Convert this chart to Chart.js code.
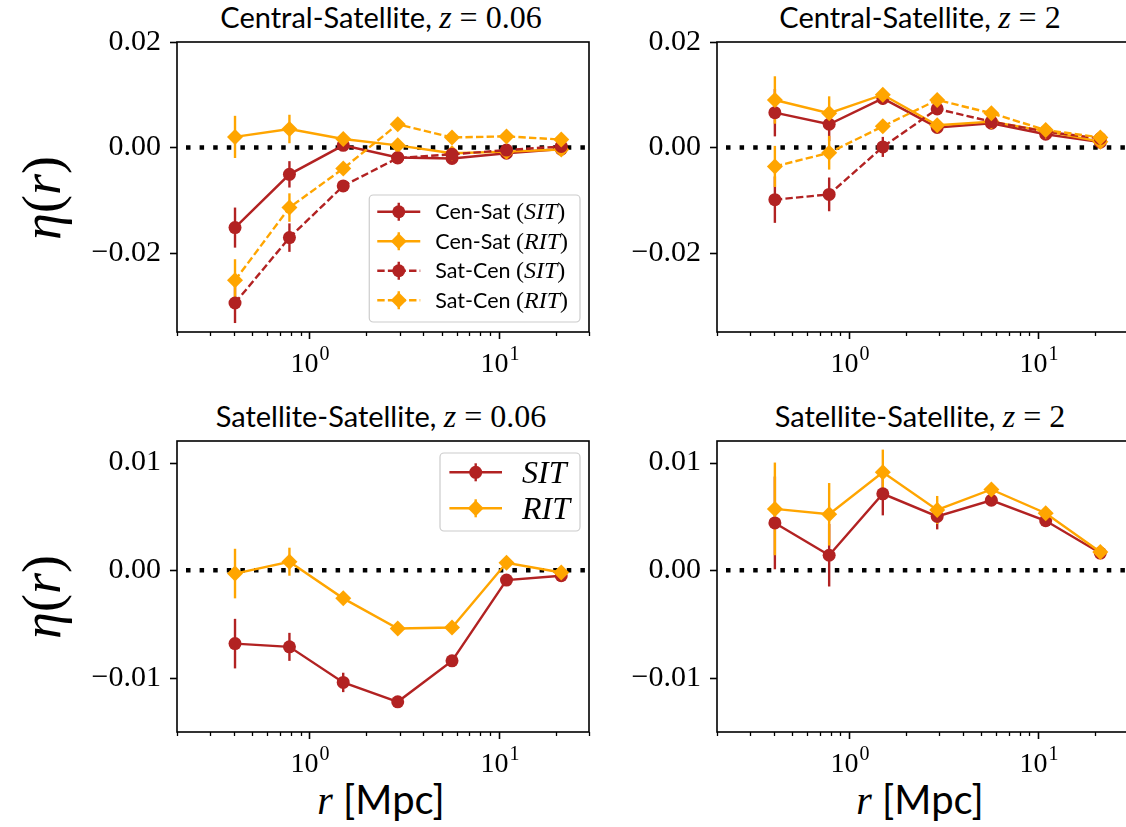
<!DOCTYPE html>
<html lang="en">
<head>
    <meta charset="UTF-8">
    <title>eta(r) - central/satellite alignment</title>
    <script src="https://cdn.jsdelivr.net/npm/chart.js"></script>
    <style>
        body { margin: 0; background: #fff; overflow: hidden; }
        #fig { position: relative; width: 1126px; height: 827px; }
        #fig canvas { position: absolute; }
        .lbl {
            position: absolute;
            transform: translate(-50%, -50%);
            white-space: nowrap;
            line-height: 1;
            color: #000;
        }
        .ttl { font-family: Lato, sans-serif; font-size: 29px; }
        .ttl .m { font-family: 'Liberation Serif', serif; font-size: 32px; }
        .ylab { font-family: 'Liberation Serif', serif; font-size: 54px; transform: translate(-50%, -50%) rotate(-90deg); }
        .xlab { font-family: Lato, sans-serif; font-size: 40px; }
        .xlab i { font-family: 'Liberation Serif', serif; }
    </style>
</head>
<body>
<div id="fig">
    <div class="lbl ttl" style="left:381px;top:17px">Central-Satellite, <span class="m"><i>z</i> = 0.06</span></div>
    <div class="lbl ttl" style="left:920px;top:17px">Central-Satellite, <span class="m"><i>z</i> = 2</span></div>
    <div class="lbl ttl" style="left:381px;top:416px">Satellite-Satellite, <span class="m"><i>z</i> = 0.06</span></div>
    <div class="lbl ttl" style="left:920px;top:416px">Satellite-Satellite, <span class="m"><i>z</i> = 2</span></div>
    <div class="lbl ylab" style="left:42px;top:198px"><i>η</i>(<i>r</i>)</div>
    <div class="lbl ylab" style="left:42px;top:597px"><i>η</i>(<i>r</i>)</div>
    <div class="lbl xlab" style="left:381px;top:800px"><i>r</i> [Mpc]</div>
    <div class="lbl xlab" style="left:920px;top:800px"><i>r</i> [Mpc]</div>
</div>
<script>
// radial bins (Mpc)
const rBins = [0.405, 0.785, 1.51, 2.93, 5.67, 11.0, 21.4];

// Central-Satellite, z = 0.06
const csLowCenSatSIT    = [-0.0152, -0.0051, 0.0004, -0.0019, -0.0021, -0.0011, -0.0003];
const csLowCenSatSITErr = [0.0038, 0.0025, 0.0008, 0.0006, 0.0005, 0.0004, 0.0003];
const csLowCenSatRIT    = [0.0020, 0.0035, 0.0016, 0.0004, -0.0011, -0.0008, -0.0004];
const csLowCenSatRITErr = [0.0040, 0.0027, 0.0008, 0.0006, 0.0005, 0.0004, 0.0003];
const csLowSatCenSIT    = [-0.0295, -0.0171, -0.0073, -0.0020, -0.0013, -0.0005, 0.0002];
const csLowSatCenSITErr = [0.0038, 0.0027, 0.0010, 0.0006, 0.0005, 0.0004, 0.0003];
const csLowSatCenRIT    = [-0.0252, -0.0114, -0.0040, 0.0044, 0.0019, 0.0021, 0.0015];
const csLowSatCenRITErr = [0.0040, 0.0027, 0.0010, 0.0006, 0.0005, 0.0004, 0.0003];

// Central-Satellite, z = 2
const csHighCenSatSIT    = [0.0066, 0.0044, 0.0093, 0.0038, 0.0046, 0.0025, 0.0010];
const csHighCenSatSITErr = [0.0045, 0.0032, 0.0012, 0.0006, 0.0005, 0.0004, 0.0003];
const csHighCenSatRIT    = [0.0090, 0.0065, 0.0100, 0.0042, 0.0049, 0.0031, 0.0011];
const csHighCenSatRITErr = [0.0045, 0.0032, 0.0012, 0.0006, 0.0005, 0.0004, 0.0003];
const csHighSatCenSIT    = [-0.0099, -0.0089, 0.0001, 0.0073, 0.0049, 0.0030, 0.0017];
const csHighSatCenSITErr = [0.0044, 0.0032, 0.0019, 0.0008, 0.0005, 0.0004, 0.0003];
const csHighSatCenRIT    = [-0.0036, -0.0010, 0.0040, 0.0090, 0.0065, 0.0033, 0.0019];
const csHighSatCenRITErr = [0.0039, 0.0032, 0.0012, 0.0006, 0.0005, 0.0004, 0.0003];

// Satellite-Satellite, z = 0.06
const ssLowSIT    = [-0.0068, -0.0071, -0.0104, -0.0122, -0.0084, -0.0009, -0.0005];
const ssLowSITErr = [0.0023, 0.0013, 0.0009, 0.0004, 0.0003, 0.0003, 0.0002];
const ssLowRIT    = [-0.0003, 0.0008, -0.0026, -0.0054, -0.0053, 0.0007, -0.0002];
const ssLowRITErr = [0.0023, 0.0013, 0.0005, 0.0003, 0.0003, 0.0003, 0.0002];

// Satellite-Satellite, z = 2
const ssHighSIT    = [0.0044, 0.0014, 0.0071, 0.0050, 0.0065, 0.0046, 0.0016];
const ssHighSITErr = [0.0043, 0.0029, 0.0020, 0.0012, 0.0005, 0.0004, 0.0002];
const ssHighRIT    = [0.0057, 0.0052, 0.0091, 0.0056, 0.0075, 0.0053, 0.0017];
const ssHighRITErr = [0.0043, 0.0029, 0.0021, 0.0013, 0.0005, 0.0004, 0.0002];

// ticks
const xMajorTicks = [1, 10];
const xMajorLabels = ['0', '1'];   // exponents of 10
const xMinorTicks = [0.2, 0.3, 0.4, 0.5, 0.6, 0.7, 0.8, 0.9, 2, 3, 4, 5, 6, 7, 8, 9, 20, 30];
const yTicksCS = [-0.02, 0, 0.02];
const yTicksSS = [-0.01, 0, 0.01];

// legend texts: [text, font kind]
const legendCS = [
    [['Cen-Sat ', 'sans'], ['(', 'serif'], ['SIT', 'it'], [')', 'serif']],
    [['Cen-Sat ', 'sans'], ['(', 'serif'], ['RIT', 'it'], [')', 'serif']],
    [['Sat-Cen ', 'sans'], ['(', 'serif'], ['SIT', 'it'], [')', 'serif']],
    [['Sat-Cen ', 'sans'], ['(', 'serif'], ['RIT', 'it'], [')', 'serif']]
];
const legendSS = [
    [['SIT', 'it']],
    [['RIT', 'it']]
];

const RED = '#b22222';
const ORANGE = '#ffa500';
const DASH = [7.4, 3.2];

function serie(vals, errs, color, dashed, marker) {
    return { vals, errs, color, dash: dashed ? DASH : [], marker };
}

const panels = [
    {
        left: 177, top: 42, w: 412, h: 290, yMin: -0.035, yMax: 0.02, yTicks: yTicksCS,
        series: [
            serie(csLowCenSatSIT, csLowCenSatSITErr, RED, false, 'circle'),
            serie(csLowCenSatRIT, csLowCenSatRITErr, ORANGE, false, 'diamond'),
            serie(csLowSatCenSIT, csLowSatCenSITErr, RED, true, 'circle'),
            serie(csLowSatCenRIT, csLowSatCenRITErr, ORANGE, true, 'diamond')
        ],
        legend: { labels: legendCS, corner: 'bottom', font: 21.5, rowH: 29.5, padTop: 2, padBot: 7,
                  pad: 8, handleW: 43, gap: 15, right: 12 }
    },
    {
        left: 717, top: 42, w: 411, h: 290, yMin: -0.035, yMax: 0.02, yTicks: yTicksCS,
        series: [
            serie(csHighCenSatSIT, csHighCenSatSITErr, RED, false, 'circle'),
            serie(csHighCenSatRIT, csHighCenSatRITErr, ORANGE, false, 'diamond'),
            serie(csHighSatCenSIT, csHighSatCenSITErr, RED, true, 'circle'),
            serie(csHighSatCenRIT, csHighSatCenRITErr, ORANGE, true, 'diamond')
        ]
    },
    {
        left: 177, top: 441, w: 412, h: 291, yMin: -0.015, yMax: 0.012, yTicks: yTicksSS,
        series: [
            serie(ssLowSIT, ssLowSITErr, RED, false, 'circle'),
            serie(ssLowRIT, ssLowRITErr, ORANGE, false, 'diamond')
        ],
        legend: { labels: legendSS, corner: 'top', font: 29, rowH: 36, padTop: 1.3, padBot: 4.7,
                  pad: 9.4, handleW: 52.6, gap: 20, right: 10 }
    },
    {
        left: 717, top: 441, w: 411, h: 291, yMin: -0.015, yMax: 0.012, yTicks: yTicksSS,
        series: [
            serie(ssHighSIT, ssHighSITErr, RED, false, 'circle'),
            serie(ssHighRIT, ssHighRITErr, ORANGE, false, 'diamond')
        ]
    }
];

function fmtTick(v) {
    const s = Math.abs(v).toFixed(2);
    return v < -1e-9 ? '\u2212' + s : s;
}

function fontFor(kind, size) {
    if (kind === 'sans') return size + 'px Lato, sans-serif';
    if (kind === 'it') return 'italic ' + Math.round(size * 1.12) + 'px "Liberation Serif", serif';
    return Math.round(size * 1.12) + 'px "Liberation Serif", serif';
}

function drawMarker(ctx, kind, x, y, color) {
    ctx.save();
    ctx.fillStyle = color;
    ctx.beginPath();
    if (kind === 'circle') {
        ctx.arc(x, y, 6.5, 0, Math.PI * 2);
    } else {
        ctx.moveTo(x, y - 8); ctx.lineTo(x + 8, y); ctx.lineTo(x, y + 8); ctx.lineTo(x - 8, y);
        ctx.closePath();
    }
    ctx.fill();
    ctx.restore();
}

const decoPlugin = {
    id: 'deco',
    beforeDatasetsDraw(chart) {
        const p = chart.options.plugins.deco.panel;
        const { ctx, chartArea: a, scales: { x, y } } = chart;
        // dotted zero line
        const y0 = y.getPixelForValue(0);
        ctx.save();
        ctx.strokeStyle = '#000';
        ctx.lineWidth = 4.5;
        ctx.setLineDash([4.5, 9.1]);
        ctx.lineDashOffset = 4.6;
        ctx.beginPath();
        ctx.moveTo(a.left, y0); ctx.lineTo(a.right, y0);
        ctx.stroke();
        ctx.restore();
        // error bars (all below the lines and markers)
        ctx.save();
        ctx.beginPath(); ctx.rect(a.left, a.top, a.right - a.left, a.bottom - a.top); ctx.clip();
        ctx.lineWidth = 2.4;
        p.series.forEach(s => {
            ctx.strokeStyle = s.color;
            s.vals.forEach((v, i) => {
                const px = x.getPixelForValue(rBins[i]);
                ctx.beginPath();
                ctx.moveTo(px, y.getPixelForValue(v + s.errs[i]));
                ctx.lineTo(px, y.getPixelForValue(v - s.errs[i]));
                ctx.stroke();
            });
        });
        ctx.restore();
    },
    afterDatasetsDraw(chart) {
        const p = chart.options.plugins.deco.panel;
        const { ctx, chartArea: a, scales: { x, y } } = chart;
        ctx.save();
        ctx.strokeStyle = '#000';
        // frame
        ctx.lineWidth = 1.6;
        ctx.strokeRect(a.left, a.top, a.right - a.left, a.bottom - a.top);
        // y ticks
        y.ticks.forEach(t => {
            const py = Math.round(y.getPixelForValue(t.value)) + 0.5;
            ctx.beginPath(); ctx.moveTo(a.left - 7, py); ctx.lineTo(a.left, py); ctx.stroke();
        });
        // x ticks
        ctx.lineWidth = 1.3;
        xMinorTicks.forEach(v => {
            const px = Math.round(x.getPixelForValue(v)) + 0.5;
            ctx.beginPath(); ctx.moveTo(px, a.bottom); ctx.lineTo(px, a.bottom + 4); ctx.stroke();
        });
        ctx.lineWidth = 1.6;
        xMajorTicks.forEach((v, i) => {
            const px = Math.round(x.getPixelForValue(v)) + 0.5;
            ctx.beginPath(); ctx.moveTo(px, a.bottom); ctx.lineTo(px, a.bottom + 7); ctx.stroke();
            // label 10^k
            ctx.fillStyle = '#000';
            ctx.textBaseline = 'alphabetic';
            ctx.textAlign = 'left';
            const fBase = '28px "Liberation Serif", serif';
            const fSup = '20px "Liberation Serif", serif';
            ctx.font = fBase; const w1 = ctx.measureText('10').width;
            ctx.font = fSup; const w2 = ctx.measureText(xMajorLabels[i]).width;
            const x0 = px - (w1 + w2) / 2;
            const base = a.bottom + 40;
            ctx.font = fBase; ctx.fillText('10', x0, base);
            ctx.font = fSup; ctx.fillText(xMajorLabels[i], x0 + w1 + 1, base - 12);
        });
        ctx.restore();

        // legend
        const L = p.legend;
        if (!L) return;
        ctx.save();
        const widths = L.labels.map(parts => parts.reduce((acc, [t, k]) => {
            ctx.font = fontFor(k, L.font); return acc + ctx.measureText(t).width;
        }, 0));
        const boxW = L.pad + L.handleW + L.gap + Math.max(...widths) + L.right;
        const boxH = L.padTop + L.rowH * L.labels.length + L.padBot;
        const bx = a.right - 9 - boxW;
        const by = L.corner === 'bottom' ? a.bottom - 10 - boxH : a.top + 12;
        ctx.fillStyle = 'rgba(255,255,255,0.8)';
        ctx.strokeStyle = '#cccccc';
        ctx.lineWidth = 1.2;
        ctx.beginPath();
        ctx.roundRect(bx, by, boxW, boxH, 4);
        ctx.fill(); ctx.stroke();
        L.labels.forEach((parts, i) => {
            const s = p.series[i];
            const cy = by + L.padTop + L.rowH * (i + 0.5);
            const hx = bx + L.pad;
            // handle: line, error stub, marker
            ctx.strokeStyle = s.color;
            ctx.lineWidth = 2.4;
            ctx.setLineDash(s.dash);
            ctx.beginPath(); ctx.moveTo(hx, cy); ctx.lineTo(hx + L.handleW, cy); ctx.stroke();
            ctx.setLineDash([]);
            ctx.beginPath(); ctx.moveTo(hx + L.handleW / 2, cy - 9); ctx.lineTo(hx + L.handleW / 2, cy + 9); ctx.stroke();
            drawMarker(ctx, s.marker, hx + L.handleW / 2, cy, s.color);
            // text
            let tx = hx + L.handleW + L.gap;
            ctx.fillStyle = '#000';
            ctx.textBaseline = 'alphabetic';
            ctx.textAlign = 'left';
            parts.forEach(([t, k]) => {
                ctx.font = fontFor(k, L.font);
                ctx.fillText(t, tx, cy + L.font * 0.36);
                tx += ctx.measureText(t).width;
            });
        });
        ctx.restore();
    }
};

function makePanel(p) {
    const padL = 120, padT = 30, padR = 28, padB = 60;
    const cv = document.createElement('canvas');
    cv.width = p.w + padL + padR;
    cv.height = p.h + padT + padB;
    cv.style.left = (p.left - padL) + 'px';
    cv.style.top = (p.top - padT) + 'px';
    document.getElementById('fig').appendChild(cv);

    const n = p.series.length;
    const datasets = p.series.map((s, i) => ({
        data: s.vals.map((v, j) => ({ x: rBins[j], y: v })),
        borderColor: s.color,
        backgroundColor: s.color,
        borderWidth: 2.4,
        borderDash: s.dash,
        pointStyle: s.marker === 'circle' ? 'circle' : 'rectRot',
        pointRadius: s.marker === 'circle' ? 6.5 : 8,
        pointBorderWidth: 0,
        pointBackgroundColor: s.color,
        tension: 0,
        fill: false,
        order: n - i
    }));

    new Chart(cv, {
        type: 'line',
        data: { datasets },
        options: {
            responsive: false,
            animation: false,
            events: [],
            layout: { padding: { top: padT, right: padR, left: 0, bottom: 0 } },
            plugins: {
                legend: { display: false },
                tooltip: { enabled: false },
                deco: { panel: p }
            },
            scales: {
                x: {
                    type: 'logarithmic',
                    min: 0.2,
                    max: 30,
                    grid: { display: false, drawTicks: false },
                    border: { display: false },
                    ticks: { display: false },
                    afterFit: s => { s.height = padB; s.paddingLeft = 0; s.paddingRight = 0; }
                },
                y: {
                    type: 'linear',
                    min: p.yMin,
                    max: p.yMax,
                    grid: { display: false, drawTicks: false },
                    border: { display: false },
                    afterBuildTicks: s => { s.ticks = p.yTicks.map(v => ({ value: v })); },
                    ticks: {
                        color: '#000',
                        padding: 16,
                        font: { family: 'Liberation Serif', size: 30 },
                        callback: v => fmtTick(v)
                    },
                    afterFit: s => { s.width = padL; s.paddingTop = 0; s.paddingBottom = 0; }
                }
            }
        },
        plugins: [decoPlugin]
    });
}

panels.forEach(makePanel);
</script>
</body>
</html>
